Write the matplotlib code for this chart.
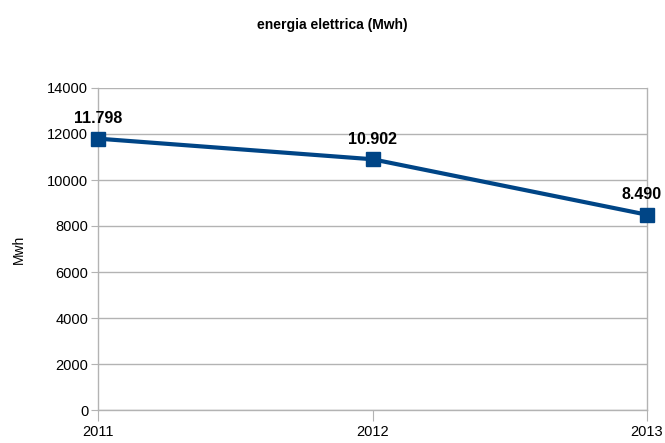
import matplotlib
matplotlib.use("Agg")
import matplotlib.pyplot as plt
from matplotlib import font_manager

years = ["2011", "2012", "2013"]
energy_mwh = [11798, 10902, 8490]
value_labels = ["11.798", "10.902", "8.490"]
y_ticks = [0, 2000, 4000, 6000, 8000, 10000, 12000, 14000]

available = {f.name for f in font_manager.fontManager.ttflist}
family = "Liberation Sans Narrow" if "Liberation Sans Narrow" in available else "Liberation Sans"
plt.rcParams["font.family"] = [family, "DejaVu Sans"]

line_color = "#004586"
grid_color = "#b3b3b3"

fig = plt.figure(figsize=(6.65, 4.43), dpi=100)
ax = fig.add_axes([98 / 665, 33 / 443, 549 / 665, 322 / 443])

x = list(range(len(years)))
ax.plot(x, energy_mwh, color=line_color, linewidth=3, marker="s",
        markersize=9.5, clip_on=False, zorder=5)

# value labels above each point; the last one is nudged left to stay inside the figure
for xi, v, lab in zip(x, energy_mwh, value_labels):
    dx = -4 if xi == x[-1] else 0
    ax.annotate(lab, (xi, v), xytext=(dx, 9), textcoords="offset points",
                ha="center", va="bottom", fontsize=11.5, fontweight="bold",
                color="black", annotation_clip=False)

ax.set_xlim(0, len(years) - 1)
ax.set_ylim(0, 14000)
ax.set_yticks(y_ticks)
ax.set_yticklabels([str(t) for t in y_ticks])
ax.set_xticks(x)
ax.set_xticklabels(years)

ax.yaxis.grid(True, color=grid_color, linewidth=1)
ax.set_axisbelow(True)
for side in ["left", "right", "bottom"]:
    ax.spines[side].set_color(grid_color)
    ax.spines[side].set_linewidth(1)
ax.spines["top"].set_visible(False)

ax.tick_params(axis="y", length=5, color=grid_color, labelsize=10.5, pad=2)
ax.tick_params(axis="x", length=8, color=grid_color, labelsize=10.5, pad=3)

ax.set_ylabel("Mwh", fontsize=10, labelpad=15)
fig.text(0.5, 1 - 25 / 443, "energia elettrica (Mwh)", ha="center",
         va="center", fontsize=10, fontweight="bold")

fig.savefig("out.png", dpi=100)
